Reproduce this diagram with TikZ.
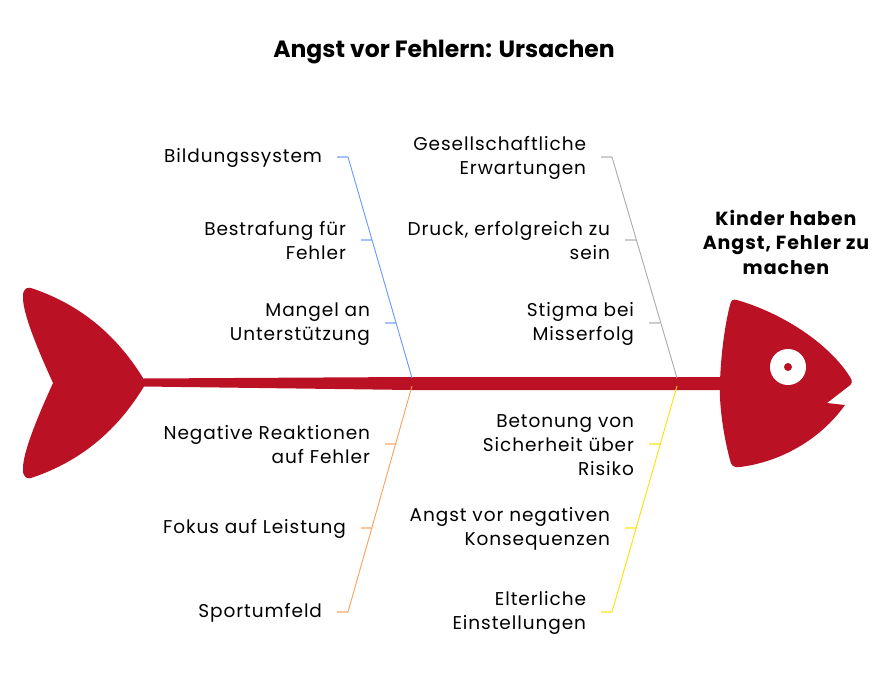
\documentclass[tikz,border=0pt]{standalone}
\usepackage{fontspec}
\setmainfont{Poppins}
\newfontfamily\causefont{Poppins}[LetterSpace=5]
\usepackage{tikz}

\definecolor{fishred}{RGB}{187,17,37}
\definecolor{boneblue}{RGB}{102,153,255}
\definecolor{bonegray}{RGB}{170,170,170}
\definecolor{boneorange}{RGB}{250,160,90}
\definecolor{boneyellow}{RGB}{255,225,0}

\begin{document}
\begin{tikzpicture}
  [x=1pt,y=-1pt,
   every node/.style={inner sep=0pt,outer sep=0pt},
   cause/.style={align=right,anchor=east,font=\causefont\fontsize{18.5}{24}\selectfont},
   bone/.style={line width=0.9pt},
   tick/.style={line width=1.6pt,opacity=.6}]
  \useasboundingbox (0,0) rectangle (888,672);

  \node[font=\fontsize{23.5}{28}\selectfont\bfseries] (title) at (444,52) {Angst vor Fehlern: Ursachen};

  % spine, tail and head
  \fill[fishred] (143,378.5) -- (412,377) -- (722,377) -- (722,390) -- (412,390) -- (143,386.5) -- cycle;
  \fill[fishred] (53,383) .. controls (38,350) and (22,312) .. (23,296)
    .. controls (23,288) and (28,286) .. (34,289)
    .. controls (80,305) and (118,335) .. (146,383)
    .. controls (118,431) and (80,461) .. (34,477)
    .. controls (28,480) and (23,478) .. (23,470)
    .. controls (22,454) and (38,416) .. (53,383) -- cycle;
  \fill[fishred] (737,300) .. controls (785,314) and (830,345) .. (850,377)
    .. controls (853,381) and (852,384) .. (849,386)
    -- (827,403) -- (845,405)
    .. controls (820,440) and (780,462) .. (740,467)
    .. controls (733,468) and (731,465) .. (730,460)
    .. controls (722,430) and (719,400) .. (720,382)
    .. controls (721,350) and (726,320) .. (730,305)
    .. controls (731,300) and (733,299) .. (737,300) -- cycle;
  \node[circle,fill=white,minimum size=36pt] (eye) at (788,367) {};
  \node[circle,fill=fishred,minimum size=8pt] (pupil) at (eye) {};

  \node[align=center,font=\causefont\fontsize{19}{24.5}\selectfont\bfseries] (effect) at (786,242)
    {Kinder haben\\Angst, Fehler zu\\machen};

  % joints on the spine
  \coordinate (jA) at (412,378);
  \coordinate (jB) at (677,378);
  \coordinate (jC) at (412,386);
  \coordinate (jD) at (677,386);

  % causes
  \foreach \n/\col/\x/\y/\txt in {
      a1/boneblue/348/157/Bildungssystem,
      a2/boneblue/372/240/{Bestrafung für\\Fehler},
      a3/boneblue/396/323/{Mangel an\\Unterstützung},
      b1/bonegray/612/157/{Gesellschaftliche\\Erwartungen},
      b2/bonegray/636/240/{Druck, erfolgreich zu\\sein},
      b3/bonegray/660/323/{Stigma bei\\Misserfolg},
      c1/boneorange/396/444/{Negative Reaktionen\\auf Fehler},
      c2/boneorange/372/528/Fokus auf Leistung,
      c3/boneorange/348/612/Sportumfeld,
      d1/boneyellow/660/444/{Betonung von\\Sicherheit über\\Risiko},
      d2/boneyellow/636/528/{Angst vor negativen\\Konsequenzen},
      d3/boneyellow/612/612/{Elterliche\\Einstellungen}} {
    \coordinate (t\n) at (\x,\y);
    \coordinate (s\n) at (\x-11,\y);
    \node[cause] (l\n) at (\x-26,\y+1) {\txt};
    \draw[tick,\col] (s\n) -- (t\n);
  }

  \draw[bone,boneblue] (ta1) -- (jA);
  \draw[bone,bonegray] (tb1) -- (jB);
  \draw[bone,boneorange] (jC) -- (tc3);
  \draw[bone,boneyellow] (jD) -- (td3);

\end{tikzpicture}
\end{document}
